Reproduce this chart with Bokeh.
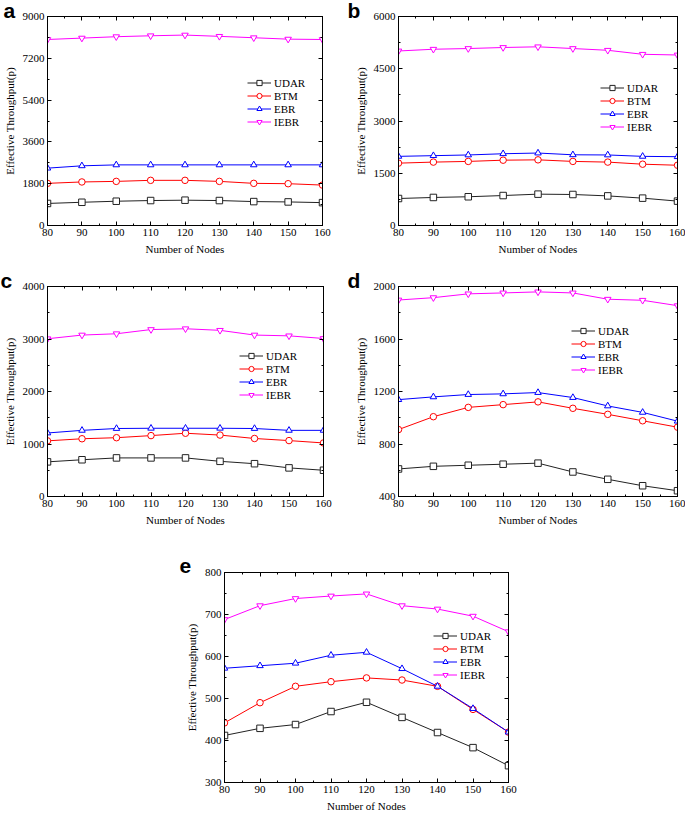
from bokeh.plotting import figure
from bokeh.models import (LinearAxis, SingleIntervalTicker, Label, Spacer, Range1d,
                          CustomLabelingPolicy)
from bokeh.layouts import column, row
from bokeh.embed import file_html
from bokeh.resources import INLINE

nodes = [80, 90, 100, 110, 120, 130, 140, 150, 160]
series_names = ["UDAR", "BTM", "EBR", "IEBR"]

a_udar = [950, 1000, 1045, 1075, 1090, 1075, 1030, 1015, 985]
a_btm = [1815, 1875, 1900, 1945, 1945, 1900, 1815, 1800, 1740]
a_ebr = [2470, 2570, 2610, 2610, 2610, 2610, 2610, 2610, 2610]
a_iebr = [8010, 8070, 8130, 8170, 8200, 8145, 8085, 8025, 8010]

b_udar = [775, 805, 825, 860, 900, 890, 850, 785, 700]
b_btm = [1790, 1820, 1840, 1875, 1885, 1840, 1820, 1760, 1730]
b_ebr = [1985, 2005, 2025, 2060, 2080, 2030, 2025, 1985, 1975]
b_iebr = [5010, 5060, 5080, 5110, 5130, 5080, 5030, 4915, 4895]

c_udar = [660, 700, 735, 735, 735, 670, 625, 545, 500]
c_btm = [1060, 1100, 1120, 1160, 1205, 1170, 1105, 1065, 1020]
c_ebr = [1210, 1260, 1295, 1300, 1300, 1300, 1295, 1260, 1260]
c_iebr = [3005, 3075, 3100, 3180, 3195, 3165, 3075, 3060, 3010]

d_udar = [610, 630, 638, 646, 654, 587, 531, 482, 444]
d_btm = [910, 1008, 1079, 1100, 1121, 1072, 1026, 977, 928]
d_ebr = [1138, 1159, 1177, 1182, 1192, 1154, 1090, 1041, 974]
d_iebr = [1897, 1915, 1944, 1951, 1959, 1951, 1903, 1895, 1854]

e_udar = [412, 429, 438, 469, 491, 455, 419, 383, 340]
e_btm = [442, 490, 529, 540, 549, 544, 529, 474, 420]
e_ebr = [572, 578, 584, 603, 610, 571, 529, 476, 420]
e_iebr = [688, 721, 738, 744, 749, 721, 713, 696, 659]

colors = ["#222222", "#ff0000", "#0000ff", "#ff00ff"]
markers = ["square", "circle", "triangle", "inverted_triangle"]
SERIF = "Liberation Serif"


def style_axis(ax, show_labels):
    ax.axis_line_color = "black"
    ax.major_tick_in = 4
    ax.major_tick_out = 0
    ax.minor_tick_in = 2
    ax.minor_tick_out = 0
    ax.major_tick_line_color = "black"
    ax.minor_tick_line_color = "black"
    if show_labels:
        ax.major_label_text_font = SERIF
        ax.major_label_text_font_size = "11px"
        ax.major_label_text_color = "black"
        ax.major_label_standoff = 3
        ax.axis_label_text_font = SERIF
        ax.axis_label_text_font_size = "11px"
        ax.axis_label_text_font_style = "normal"
        ax.axis_label_text_color = "black"
        ax.axis_label_standoff = 4
    else:
        ax.major_label_policy = CustomLabelingPolicy(code="return []")
        ax.major_label_text_font_size = "1px"
        ax.major_label_standoff = 0
        ax.axis_label = None


def make_panel(letter, ys, y0, y1, step, width, height, bl, br, bt, bb, leg_xy, letter_xy):
    p = figure(width=width, height=height,
               x_range=Range1d(80, 160), y_range=Range1d(y0, y1),
               output_backend="svg", toolbar_location=None,
               min_border_left=bl, min_border_right=br,
               min_border_top=bt, min_border_bottom=bb,
               x_axis_label="Number of Nodes",
               y_axis_label="Effective Throughput(p)")
    p.grid.visible = False
    p.outline_line_color = "black"
    p.background_fill_color = "white"
    p.border_fill_color = "white"
    p.xaxis[0].ticker = SingleIntervalTicker(interval=10, num_minor_ticks=2)
    p.yaxis[0].ticker = SingleIntervalTicker(interval=step, num_minor_ticks=2)
    style_axis(p.xaxis[0], True)
    style_axis(p.yaxis[0], True)
    top = LinearAxis(ticker=SingleIntervalTicker(interval=10, num_minor_ticks=2))
    right = LinearAxis(ticker=SingleIntervalTicker(interval=step, num_minor_ticks=2))
    style_axis(top, False)
    style_axis(right, False)
    p.add_layout(top, "above")
    p.add_layout(right, "right")

    for name, vals, c, m in zip(series_names, ys, colors, markers):
        p.line(nodes, vals, line_color=c, line_width=1, legend_label=name)
        p.scatter(nodes, vals, marker=m, size=6.5, line_color=c, fill_color="white",
                  line_width=1, legend_label=name)

    lg = p.legend[0]
    lg.location = leg_xy
    lg.border_line_color = None
    lg.background_fill_alpha = 0
    lg.padding = 0
    lg.margin = 0
    lg.spacing = 0
    lg.glyph_width = 24
    lg.glyph_height = 13
    lg.label_height = 13
    lg.label_standoff = 3
    lg.label_text_font = SERIF
    lg.label_text_font_size = "11px"
    lg.label_text_color = "black"

    p.add_layout(Label(x=letter_xy[0], y=letter_xy[1], x_units="screen", y_units="screen",
                       text=letter, text_font="Liberation Sans", text_font_style="bold",
                       text_font_size="21px", text_color="black",
                       text_baseline="alphabetic"), "above")
    return p


pa = make_panel("a", [a_udar, a_btm, a_ebr, a_iebr], 0, 9000, 1800,
                340, 270, 43, 18, 18, 34, (200, 97), (-44, 2))
pb = make_panel("b", [b_udar, b_btm, b_ebr, b_iebr], 0, 6000, 1500,
                345, 270, 58, 8, 18, 34, (202, 92), (-51, 2))
pc = make_panel("c", [c_udar, c_btm, c_ebr, c_iebr], 0, 4000, 1000,
                340, 273, 45, 17, 26, 36, (192, 95), (-47, 2))
pd = make_panel("d", [d_udar, d_btm, d_ebr, d_iebr], 400, 2000, 400,
                345, 273, 58, 8, 26, 36, (173, 120), (-51, 2))
pe = make_panel("e", [e_udar, e_btm, e_ebr, e_iebr], 300, 800, 100,
                358, 282, 54, 20, 40, 32, (209, 101), (-45, 3))

layout = column(row(pa, pb, margin=(-11, 0, 0, 0)),
                row(pc, pd),
                row(Spacer(width=170, height=282), pe))

open("out.html", "w").write(file_html(layout, INLINE))
